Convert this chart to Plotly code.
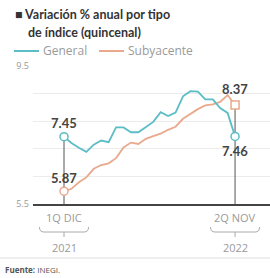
import plotly.graph_objects as go

periods = ["1Q DIC 2021", "2Q DIC 2021", "1Q ENE", "2Q ENE", "1Q FEB", "2Q FEB", "1Q MAR", "2Q MAR",
           "1Q ABR", "2Q ABR", "1Q MAY", "2Q MAY", "1Q JUN", "2Q JUN", "1Q JUL", "2Q JUL",
           "1Q AGO", "2Q AGO", "1Q SEP", "2Q SEP", "1Q OCT", "2Q OCT", "1Q NOV", "2Q NOV 2022"]
general = [7.45, 7.27, 7.13, 7.01, 7.22, 7.34, 7.29, 7.72, 7.72, 7.58, 7.58, 7.72,
           7.88, 8.16, 8.05, 8.15, 8.62, 8.77, 8.76, 8.53, 8.53, 8.28, 8.14, 7.46]
subyacente = [5.87, 5.94, 6.13, 6.27, 6.52, 6.63, 6.68, 6.83, 7.14, 7.28, 7.24, 7.39,
              7.47, 7.54, 7.65, 7.74, 7.97, 8.12, 8.25, 8.36, 8.39, 8.46, 8.66, 8.37]
tick_labels = ["1Q DIC", "2Q NOV"]
tick_years = ["2021", "2022"]
y_grid = [5.5, 6.3, 7.1, 7.9, 8.7, 9.5]
y_labels = ["5.5", "", "", "", "", "9.5"]

TEAL = "#5bbdc5"
ORANGE = "#e9a98c"
DARK = "#444444"
GRAY = "#9a9a9a"

W, H = 270, 278
L, R, T, B = 33, 0, 66, 74
x = list(range(len(periods)))
first, last = 0, len(periods) - 1

def PX(px):
    return (px - L) / (W - L - R)

def PY(py):
    return (H - B - py) / (H - T - B)

fig = go.Figure()
# drop lines
for i in (first, last):
    fig.add_trace(go.Scatter(x=[i, i], y=[y_grid[0], max(general[i], subyacente[i])],
                             mode="lines", line=dict(color="#555555", width=1),
                             hoverinfo="skip"))
fig.add_trace(go.Scatter(x=x, y=subyacente, mode="lines", line=dict(color=ORANGE, width=1.8),
                         name="Subyacente"))
fig.add_trace(go.Scatter(x=x, y=general, mode="lines", line=dict(color=TEAL, width=1.8),
                         name="General"))
fig.add_trace(go.Scatter(x=[first, last], y=[subyacente[first], subyacente[last]], mode="markers",
                         marker=dict(symbol=["circle", "square"], size=8, color="white",
                                     line=dict(color=ORANGE, width=1.5))))
fig.add_trace(go.Scatter(x=[first, last], y=[general[first], general[last]], mode="markers",
                         marker=dict(symbol="circle", size=8, color="white",
                                     line=dict(color=TEAL, width=1.5))))

ann = []
vf = dict(family="Lato", size=13, color=DARK)
ann.append(dict(x=first, y=general[first], text="<b>%.2f</b>" % general[first], yshift=14,
                showarrow=False, font=vf, yanchor="middle"))
ann.append(dict(x=first, y=subyacente[first], text="<b>%.2f</b>" % subyacente[first], yshift=13,
                showarrow=False, font=vf, yanchor="middle"))
ann.append(dict(x=last, y=subyacente[last], text="<b>%.2f</b>" % subyacente[last], yshift=16,
                showarrow=False, font=vf, yanchor="middle"))
ann.append(dict(x=last, y=general[last], text="<b>%.2f</b>" % general[last], yshift=-15,
                showarrow=False, font=vf, yanchor="middle"))

for i, lab, yr in zip((first, last), tick_labels, tick_years):
    ann.append(dict(x=i, xref="x", y=PY(217), yref="paper", text=lab, showarrow=False,
                    xanchor="center", yanchor="middle",
                    font=dict(family="Open Sans", size=11, color=GRAY)))
    ann.append(dict(x=i, xref="x", y=PY(247), yref="paper", text=yr, showarrow=False,
                    xanchor="center", yanchor="middle",
                    font=dict(family="Open Sans", size=11, color=GRAY)))

# title
ann.append(dict(x=PX(13), y=PY(15), xref="paper", yref="paper", xanchor="left", yanchor="middle",
                showarrow=False, text="<b>■ Variación % anual por tipo</b>",
                font=dict(family="Lato", size=12.5, color="#333333")))
ann.append(dict(x=PX(26), y=PY(32), xref="paper", yref="paper", xanchor="left", yanchor="middle",
                showarrow=False, text="<b>de índice (quincenal)</b>",
                font=dict(family="Lato", size=12.5, color="#333333")))
# legend texts
ann.append(dict(x=PX(41), y=PY(51), xref="paper", yref="paper", xanchor="left", yanchor="middle",
                showarrow=False, text="General",
                font=dict(family="Open Sans", size=12, color=GRAY)))
ann.append(dict(x=PX(126), y=PY(51), xref="paper", yref="paper", xanchor="left", yanchor="middle",
                showarrow=False, text="Subyacente",
                font=dict(family="Open Sans", size=12, color=GRAY)))
# source
ann.append(dict(x=PX(3), y=PY(269), xref="paper", yref="paper", xanchor="left", yanchor="middle",
                showarrow=False, text="<b>Fuente:</b> INEGI.",
                font=dict(family="Open Sans", size=8, color="#555555")))

shapes = [
    dict(type="line", xref="paper", yref="paper", x0=PX(14), x1=PX(39), y0=PY(51), y1=PY(51),
         line=dict(color=TEAL, width=2)),
    dict(type="line", xref="paper", yref="paper", x0=PX(99), x1=PX(124), y0=PY(51), y1=PY(51),
         line=dict(color=ORANGE, width=2)),
    dict(type="line", xref="paper", yref="paper", x0=PX(0), x1=PX(270), y0=PY(258), y1=PY(258),
         line=dict(color="#dddddd", width=1)),
]
for i in (first, last):
    shapes.append(dict(type="path", xref="x", yref="paper",
                       path="M %f,%f Q %f,%f %f,%f L %f,%f Q %f,%f %f,%f" % (
                           i - 3.3, PY(227), i - 3.3, PY(232), i - 2.7, PY(232),
                           i + 2.7, PY(232), i + 3.3, PY(232), i + 3.3, PY(227)),
                       line=dict(color="#aaaaaa", width=1)))
    shapes.append(dict(type="line", xref="x", yref="paper", x0=i, x1=i, y0=PY(232), y1=PY(237),
                       line=dict(color="#aaaaaa", width=1)))

fig.update_layout(
    width=W, height=H, margin=dict(l=L, r=R, t=T, b=B),
    paper_bgcolor="white", plot_bgcolor="white", showlegend=False,
    annotations=ann, shapes=shapes,
    xaxis=dict(range=[-4.17, 27.7], showgrid=False, zeroline=False, showticklabels=False,
               showline=True, linecolor="#444444", linewidth=2, ticks=""),
    yaxis=dict(range=[5.5, 9.5], tickvals=y_grid, ticktext=y_labels, showgrid=True,
               gridcolor="#ececec", gridwidth=1, zeroline=False, showline=False, ticks="",
               tickfont=dict(family="Open Sans", size=9, color=GRAY), ticklabelstandoff=3),
)
fig.write_html("out.html", config={"displayModeBar": False},
               post_script="document.body.style.margin='0';document.body.style.overflow='hidden';")
